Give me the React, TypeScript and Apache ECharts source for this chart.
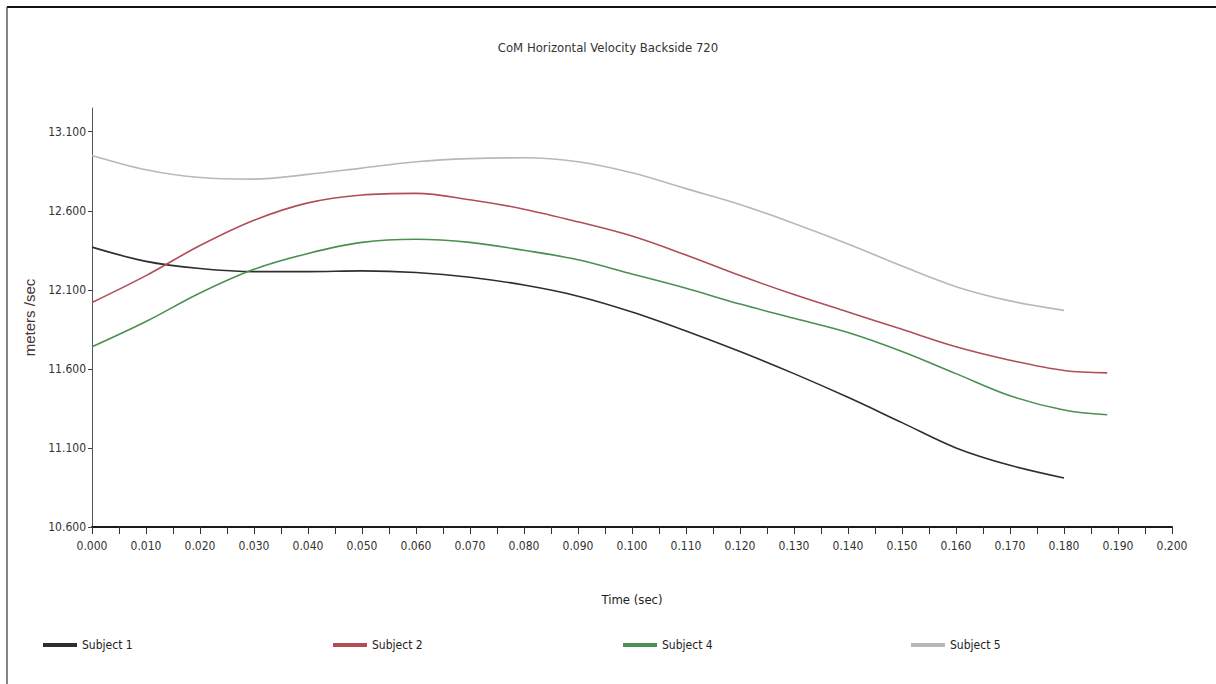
import React, { useEffect, useRef } from "react";
import * as echarts from "echarts";

const timeShort = [0, 0.01, 0.02, 0.03, 0.04, 0.05, 0.06, 0.07, 0.08, 0.09, 0.1, 0.11, 0.12, 0.13, 0.14, 0.15, 0.16, 0.17, 0.18];
const timeLong = [0, 0.01, 0.02, 0.03, 0.04, 0.05, 0.06, 0.07, 0.08, 0.09, 0.1, 0.11, 0.12, 0.13, 0.14, 0.15, 0.16, 0.17, 0.18, 0.188];

const subject1 = [12.37, 12.28, 12.235, 12.215, 12.215, 12.22, 12.21, 12.18, 12.13, 12.06, 11.96, 11.84, 11.71, 11.57, 11.42, 11.26, 11.1, 10.99, 10.91];
const subject2 = [12.02, 12.19, 12.38, 12.54, 12.65, 12.7, 12.71, 12.67, 12.61, 12.53, 12.44, 12.32, 12.19, 12.07, 11.96, 11.85, 11.74, 11.655, 11.59, 11.575];
const subject4 = [11.74, 11.9, 12.08, 12.23, 12.33, 12.4, 12.42, 12.4, 12.35, 12.29, 12.2, 12.11, 12.01, 11.92, 11.83, 11.71, 11.57, 11.43, 11.34, 11.31];
const subject5 = [12.95, 12.86, 12.81, 12.8, 12.83, 12.87, 12.91, 12.93, 12.935, 12.91, 12.84, 12.74, 12.64, 12.52, 12.39, 12.25, 12.12, 12.03, 11.97];

const seriesNames = ["Subject 1", "Subject 2", "Subject 4", "Subject 5"];
const seriesColors = ["#2e2e2e", "#b04e58", "#4a9050", "#b8b8b8"];

const yTickValues = [10.6, 11.1, 11.6, 12.1, 12.6, 13.1];
const xLabelValues = [0, 0.01, 0.02, 0.03, 0.04, 0.05, 0.06, 0.07, 0.08, 0.09, 0.1, 0.11, 0.12, 0.13, 0.14, 0.15, 0.16, 0.17, 0.18, 0.19, 0.2];
const xTickValues = [0, 0.005, 0.01, 0.015, 0.02, 0.025, 0.03, 0.035, 0.04, 0.045, 0.05, 0.055, 0.06, 0.065, 0.07, 0.075, 0.08, 0.085, 0.09, 0.095, 0.1, 0.105, 0.11, 0.115, 0.12, 0.125, 0.13, 0.135, 0.14, 0.145, 0.15, 0.155, 0.16, 0.165, 0.17, 0.175, 0.18, 0.185, 0.19, 0.195, 0.2];

const NARROW = "'Liberation Sans Narrow', 'Arial Narrow', 'DejaVu Sans Condensed', 'Liberation Sans', Arial, sans-serif";

export default function App() {
  const ref = useRef<HTMLDivElement>(null);
  useEffect(() => {
    document.body.style.margin = "0";
    const chart = echarts.init(ref.current!, null, { renderer: "svg" });
    const pair = (ts: number[], vs: number[]) => vs.map((v, i) => [ts[i], v]);
    const datasets = [
      pair(timeShort, subject1),
      pair(timeLong, subject2),
      pair(timeLong, subject4),
      pair(timeShort, subject5),
    ];
    const legendLefts = [38, 328, 618, 906];
    chart.setOption({
      animation: false,
      backgroundColor: "#ffffff",
      title: {
        text: "CoM Horizontal Velocity Backside 720",
        left: "center",
        top: 36,
        textStyle: { fontFamily: NARROW, fontSize: 13, fontWeight: "normal", color: "#333" },
      },
      legend: seriesNames.map((n, i) => ({
        data: [n],
        left: legendLefts[i],
        top: 634,
        icon: "rect",
        itemWidth: 34,
        itemHeight: 4,
        itemGap: 6,
        textStyle: { fontFamily: NARROW, fontSize: 12, color: "#222" },
      })),
      grid: { left: 92, right: 44, top: 108, bottom: 157, containLabel: false },
      xAxis: {
        type: "value",
        min: 0,
        max: 0.2,
        name: "Time (sec)",
        nameLocation: "middle",
        nameGap: 66,
        nameTextStyle: { fontFamily: NARROW, fontSize: 13, color: "#222" },
        axisLine: { lineStyle: { color: "#1a1a1a", width: 2 } },
        axisTick: { show: true, length: 7, customValues: xTickValues, lineStyle: { color: "#333" } },
        axisLabel: {
          customValues: xLabelValues,
          margin: 13,
          fontFamily: NARROW,
          fontSize: 12,
          color: "#333",
          formatter: (v: number) => v.toFixed(3),
        },
        splitLine: { show: false },
      },
      yAxis: {
        type: "value",
        min: 10.6,
        max: 13.25,
        name: "meters /sec",
        nameLocation: "middle",
        nameGap: 33,
        nameRotate: 90,
        nameTextStyle: { fontFamily: "'Liberation Sans', Arial, sans-serif", fontSize: 15, color: "#4a3232" },
        axisLine: { show: true, lineStyle: { color: "#555", width: 1 } },
        axisTick: { show: true, length: 4, customValues: yTickValues, lineStyle: { color: "#444" } },
        axisLabel: {
          customValues: yTickValues,
          margin: 6,
          fontFamily: NARROW,
          fontSize: 12,
          color: "#333",
          formatter: (v: number) => v.toFixed(3),
        },
        splitLine: { show: false },
      },
      graphic: [
        { type: "line", shape: { x1: 7, y1: 7, x2: 1216, y2: 7 }, style: { stroke: "#111", lineWidth: 2 } },
        { type: "line", shape: { x1: 7, y1: 7, x2: 7, y2: 684 }, style: { stroke: "#333", lineWidth: 1.2 } },
      ],
      series: seriesNames.map((n, i) => ({
        name: n,
        type: "line",
        data: datasets[i],
        smooth: 0.35,
        showSymbol: false,
        symbol: "none",
        lineStyle: { color: seriesColors[i], width: 1.6 },
        itemStyle: { color: seriesColors[i] },
      })),
    });
    return () => chart.dispose();
  }, []);
  return <div ref={ref} style={{ width: 1216, height: 684 }} />;
}
